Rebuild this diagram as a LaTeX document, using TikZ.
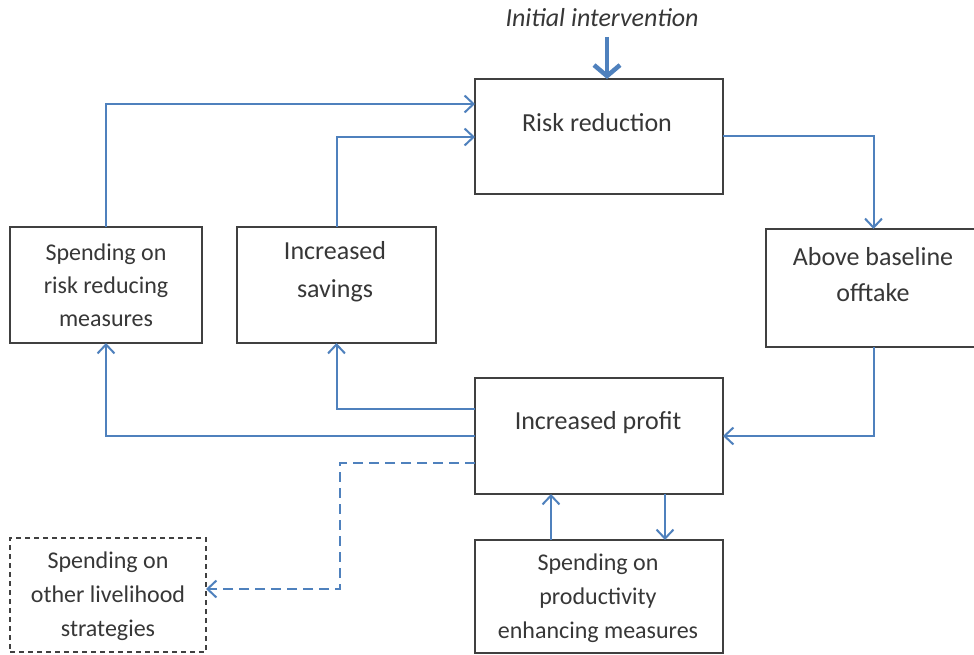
\documentclass[tikz,border=0pt]{standalone}
\usepackage{fontspec}
\setmainfont{Carlito}
\usetikzlibrary{arrows.meta}
\definecolor{lblue}{RGB}{79,129,189}
\definecolor{bord}{RGB}{64,64,64}
\definecolor{txtc}{RGB}{55,55,55}
\begin{document}
\begin{tikzpicture}[x=1pt,y=-1pt,
  box/.style={draw=bord,line width=1.8pt,inner sep=0pt,outer sep=0pt},
  dbox/.style={box,dash pattern=on 5pt off 4pt,line width=1.5pt},
  txt/.style={text=txtc,font=\fontsize{26}{33}\selectfont,align=center,inner sep=0pt},
  conn/.style={draw=lblue,line width=2pt,-{Straight Barb[length=9pt,width=17pt,line width=2pt]}},
  dconn/.style={conn,dash pattern=on 10pt off 6pt}]
\clip (0,0) rectangle (974,655);
\fill[white] (0,0) rectangle (974,655);
% boxes
\node[box,minimum width=248,minimum height=115] (rr) at (599,136.5) {};
\node[box,minimum width=192,minimum height=116] (sr) at (106,285) {};
\node[box,minimum width=199,minimum height=116] (sv) at (336.5,285) {};
\node[box,minimum width=215,minimum height=118] (ab) at (873.5,288) {};
\node[box,minimum width=248,minimum height=116] (pf) at (599,436) {};
\node[box,minimum width=248,minimum height=113] (pe) at (599,596.5) {};
\node[dbox,minimum width=196,minimum height=114] (ol) at (108,595) {};
% texts
\node[txt,font=\fontsize{26}{33}\selectfont\itshape] (ii) at (602,18) {Initial intervention};
\node[txt] (rrT) at (597,123) {Risk reduction};
\node[txt,font=\fontsize{24}{33}\selectfont] (srT) at (106,285) {Spending on\\risk reducing\\measures};
\node[txt,font=\fontsize{26}{38}\selectfont] (svT) at (335,272) {Increased\\savings};
\node[txt,font=\fontsize{26}{36}\selectfont] (abT) at (873,275) {Above baseline\\offtake};
\node[txt] (pfT) at (598,423) {Increased profit};
\node[txt,font=\fontsize{24}{34}\selectfont] (peT) at (598,598) {Spending on\\productivity\\enhancing measures};
\node[txt,font=\fontsize{24}{34}\selectfont] (olT) at (108,596) {Spending on\\other livelihood\\strategies};
% connectors
\coordinate (ia) at (607,37);
\draw[draw=lblue,line width=4.5pt,-{Straight Barb[length=11pt,width=26pt,line width=4.5pt]}] (ia) -- (rr.north -| ia);
\draw[conn] (sr.north) |- (rr.west |- 0,104);
\draw[conn] (sv.north) |- (rr.west |- 0,137);
\draw[conn] (rr.east) -| (ab.north);
\draw[conn] (ab.south) |- (pf.east);
\draw[conn] (pf.west |- 0,409) -| (sv.south);
\draw[conn] (pf.west) -| (sr.south);
\coordinate (dk) at (340,589);
\draw[dconn] (pf.west |- 0,463) -| (dk) -- (ol.east |- dk);
\draw[conn] (pe.north -| 551,0) -- (pf.south -| 551,0);
\draw[conn] (pf.south -| 665,0) -- (pe.north -| 665,0);
\end{tikzpicture}
\end{document}
